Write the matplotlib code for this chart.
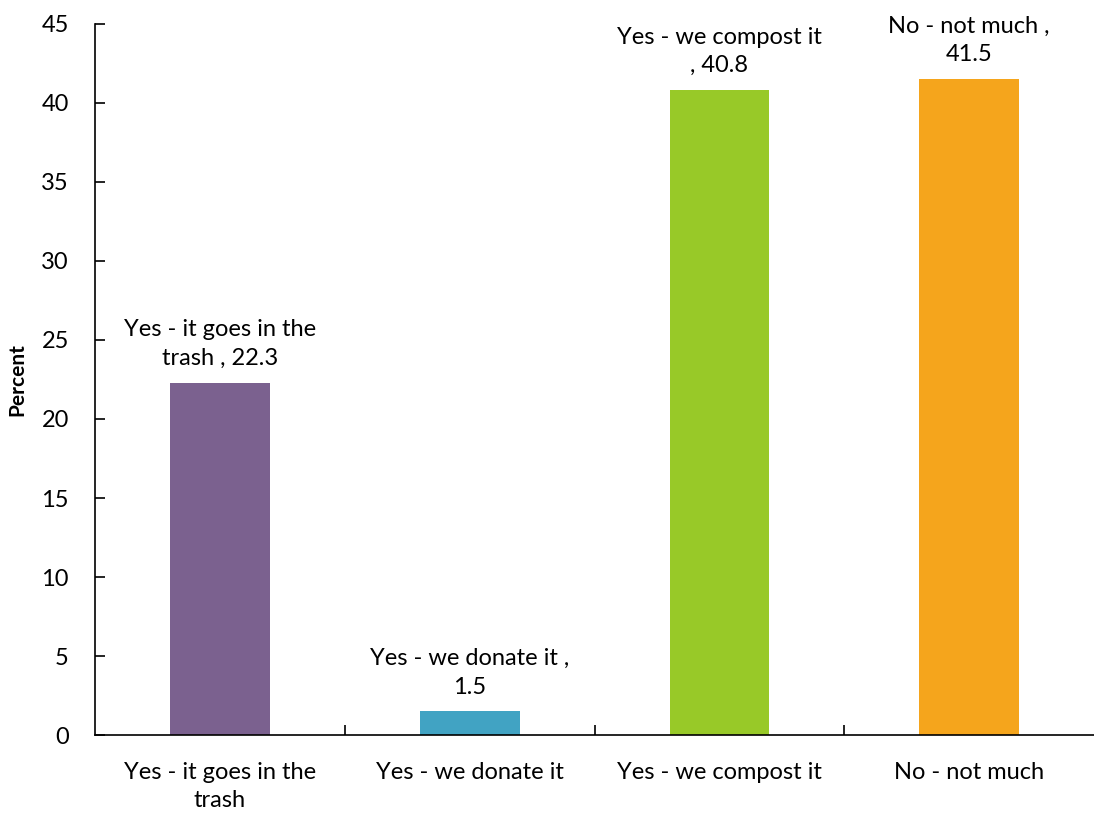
import numpy as np
import matplotlib.pyplot as plt

categories = ['Yes - it goes in the\ntrash', 'Yes - we donate it', 'Yes - we compost it', 'No - not much']
values = [22.3, 1.5, 40.8, 41.5]
bar_labels = ['Yes - it goes in the\ntrash , 22.3', 'Yes - we donate it ,\n1.5',
              'Yes - we compost it\n, 40.8', 'No - not much ,\n41.5']
colors = ['#7B618F', '#41A3C3', '#98C928', '#F5A51C']

plt.rcParams['font.family'] = ['Lato', 'DejaVu Sans']

fig = plt.figure(figsize=(10.94, 8.16), dpi=100)
ax = fig.add_axes([0.087, 0.099, 0.913, 0.872])

x = np.arange(len(categories))
bars = ax.bar(x, values, width=0.4, color=colors)

for b, lab in zip(bars, bar_labels):
    ax.annotate(lab, (b.get_x() + b.get_width() / 2, b.get_height()),
                xytext=(0, 10), textcoords='offset points',
                ha='center', va='bottom', fontsize=17, linespacing=1.45)

ax.set_xlim(-0.5, 3.5)
ax.set_ylim(0, 45)
ax.set_yticks(np.arange(0, 46, 5))
ax.set_xticks(x)
ax.set_xticklabels(categories, fontsize=17, linespacing=1.45)
ax.set_xticks(np.arange(0.5, 3.5, 1), minor=True)
ax.tick_params(axis='x', which='major', length=0, pad=19)
ax.tick_params(axis='x', which='minor', direction='in', length=7, width=1.2)
ax.tick_params(axis='y', direction='in', length=7, width=1.2, labelsize=17, pad=19)

ax.spines['top'].set_visible(False)
ax.spines['right'].set_visible(False)
ax.spines['left'].set_linewidth(1.2)
ax.spines['bottom'].set_linewidth(1.2)

ax.set_ylabel('Percent', fontsize=15, fontweight='bold', labelpad=10)

fig.savefig('out.png', dpi=100)
